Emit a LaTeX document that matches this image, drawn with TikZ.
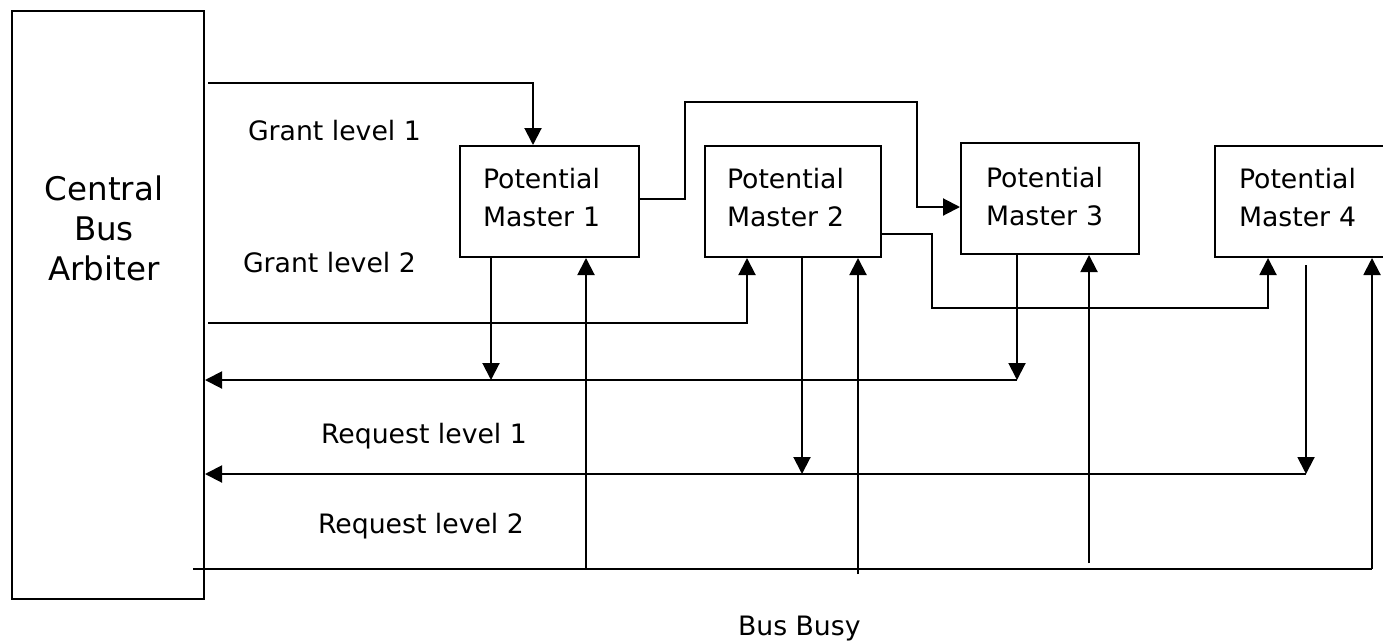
\documentclass[tikz,border=0pt]{standalone}
\usepackage{fontspec}
\setmainfont{DejaVu Sans}
\usetikzlibrary{arrows.meta,calc}
\begin{document}
\begin{tikzpicture}[x=1pt,y=-1pt,line width=2pt,
  arr/.style={-{Triangle[width=17pt,length=17pt]}},
  unit/.style={draw,anchor=north west,inner sep=0pt,minimum height=111pt},
  unittext/.style={anchor=base west,inner sep=0pt,align=left,text width=140pt,
    font=\fontsize{26.7}{38}\selectfont},
  lbl/.style={anchor=base west,inner sep=0pt,font=\fontsize{26.7}{32}\selectfont}]
\useasboundingbox (0,0) rectangle (1383,640);
\clip (0,0) rectangle (1383,640);

% arbiter
\node[draw,anchor=north west,inner sep=0pt,minimum width=192pt,minimum height=588pt] (arb) at (11,10) {};
\node[anchor=base,inner sep=0pt,align=center,text width=160pt,
  font=\fontsize{32.5}{40}\selectfont] (arbtext) at (104,200) {Central\\Bus\\Arbiter};

% potential masters
\node[unit,minimum width=179pt] (m1) at (459,145) {};
\node[unit,minimum width=176pt] (m2) at (704,145) {};
\node[unit,minimum width=178pt] (m3) at (960,142) {};
\node[unit,minimum width=190pt] (m4) at (1214,145) {};
\node[unittext] (m1t) at (482,188) {Potential\\Master 1};
\node[unittext] (m2t) at (726,188) {Potential\\Master 2};
\node[unittext] (m3t) at (985,187) {Potential\\Master 3};
\node[unittext] (m4t) at (1238,188) {Potential\\Master 4};

% labels
\node[lbl] (g1l) at (247,140) {Grant level 1};
\node[lbl] (g2l) at (242,272) {Grant level 2};
\node[lbl] (r1l) at (320,443) {Request level 1};
\node[lbl] (r2l) at (317,533) {Request level 2};
\node[lbl] (bbl) at (737,635) {Bus Busy};

% bus end points, bends and taps
\coordinate (g1s) at (208,83);
\coordinate (g2s) at (208,323);
\coordinate (c1) at (685,102);
\coordinate (c3) at (917,207);
\coordinate (c2) at (932,308);
\coordinate (rq1) at (1017,380);
\coordinate (rq2) at (1306,474);
\coordinate (bbs) at (193,569);
\coordinate (bbe) at (1372,569);
\coordinate (t1) at (491,380);
\coordinate (t2) at (802,474);
\coordinate (u1) at (586,569);
\coordinate (u2) at (858,574);
\coordinate (u3) at (1089,563);

% grant daisy chain
\draw[arr] (g1s) -| ([xshift=74pt]m1.north west);
\draw[arr] ([yshift=2.5pt]m1.east) -| (c1) -| (c3) -- (m3.west |- c3);
\draw[arr] (g2s) -| ([xshift=43pt]m2.south west);
\draw[arr] ([yshift=-32.5pt]m2.east) -| (c2) -| ([xshift=54pt]m4.south west);

% request levels
\draw[arr] (rq1) -- (arb.east |- rq1);
\draw[arr] (rq2) -- (arb.east |- rq2);
\draw[arr] ([xshift=32pt]m1.south west) -- (t1);
\draw[arr] ([xshift=57pt]m3.south west) -- (rq1);
\draw[arr] ([xshift=98pt]m2.south west) -- (t2);
\draw[arr] ([xshift=92pt,yshift=-7pt]m4.south west) -- (rq2);

% bus busy
\draw (bbs) -- (bbe);
\draw[arr] (bbe) -- (bbe |- m4.south);
\draw[arr] (u1) -- (u1 |- m1.south);
\draw[arr] (u2) -- (u2 |- m2.south);
\draw[arr] (u3) -- (u3 |- m3.south);
\end{tikzpicture}
\end{document}
